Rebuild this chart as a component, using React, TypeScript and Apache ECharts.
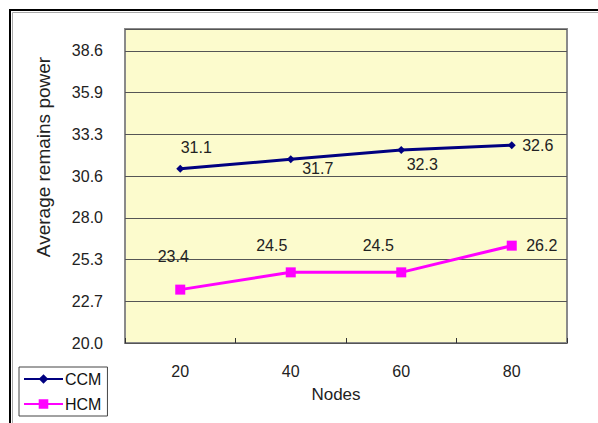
import React, { useEffect, useRef } from "react";
import * as echarts from "echarts";

const nodes = ["20", "40", "60", "80"];
const ccmValues = [31.1, 31.7, 32.3, 32.6];
const hcmValues = [23.4, 24.5, 24.5, 26.2];
const ccmLabelOffsets = [[16, -21], [27, 9], [21, 15], [26, 0]];
const hcmLabelOffsets = [[-7, -33], [-19, -27], [-23, -27], [30, 0]];
const yMin = 20;
const yMax = 40;
const yStep = 18.6 / 7;

const FONT = "'Liberation Sans', Arial, sans-serif";

export default function App() {
  const ref = useRef<HTMLDivElement>(null);

  useEffect(() => {
    if (!ref.current) return;
    const chart = echarts.init(ref.current, undefined, { renderer: "svg" });

    const toData = (vals: number[], offs: number[][]) =>
      vals.map((v, i) => ({
        value: v,
        label: { offset: offs[i] },
      }));

    chart.setOption({
      animation: false,
      backgroundColor: "#ffffff",
      textStyle: { fontFamily: FONT },
      grid: {
        left: 125,
        top: 29,
        right: 31,
        bottom: 80,
        show: true,
        backgroundColor: "#FCFBCD",
        borderColor: "#8a8a8a",
        borderWidth: 2,
      },
      xAxis: {
        type: "category",
        data: nodes,
        boundaryGap: true,
        axisLine: { show: false },
        axisTick: {
          show: true,
          inside: true,
          length: 5,
          lineStyle: { color: "#333", width: 1 },
        },
        axisLabel: { color: "#222", fontSize: 16, margin: 20, fontFamily: FONT },
        splitLine: { show: false },
      },
      yAxis: {
        type: "value",
        min: yMin,
        max: yMax,
        interval: yStep,
        axisLine: { show: false },
        axisTick: { show: false },
        axisLabel: {
          color: "#222",
          fontSize: 16,
          margin: 22,
          fontFamily: FONT,
          showMaxLabel: false,
          formatter: (v: number) => (v > 39 ? "" : v.toFixed(1)),
        },
        splitLine: { show: true, lineStyle: { color: "#555", width: 1 } },
      },
      legend: {
        left: 19,
        top: 367,
        orient: "vertical",
        data: ["CCM", "HCM"],
        itemWidth: 39,
        itemHeight: 12,
        itemGap: 9,
        padding: [4, 6, 4, 4],
        backgroundColor: "#ffffff",
        borderColor: "#444",
        borderWidth: 1,
        borderRadius: 0,
        textStyle: { color: "#111", fontSize: 16, fontFamily: FONT, padding: [0, 0, 0, -3] },
      },
      graphic: [
        {
          type: "polyline",
          shape: { points: [[10, 423], [10, 10], [598, 10]] },
          style: { stroke: "#000", lineWidth: 2, fill: null },
          silent: true,
        },
        {
          type: "polyline",
          shape: { points: [[12.5, 423], [12.5, 12.5], [598, 12.5]] },
          style: { stroke: "#aaa", lineWidth: 1, fill: null },
          silent: true,
        },
        {
          type: "text",
          x: 43,
          y: 157,
          rotation: Math.PI / 2,
          style: {
            text: "Average remains power",
            fontSize: 19,
            fontFamily: FONT,
            fill: "#222",
            align: "center",
            verticalAlign: "middle",
          },
        },
        {
          type: "text",
          x: 336,
          y: 394,
          style: {
            text: "Nodes",
            fontSize: 17,
            fontFamily: FONT,
            fill: "#222",
            align: "center",
            verticalAlign: "middle",
          },
        },
      ],
      series: [
        {
          name: "CCM",
          type: "line",
          data: toData(ccmValues, ccmLabelOffsets),
          symbol: "diamond",
          symbolSize: 8,
          lineStyle: { color: "#000080", width: 3 },
          itemStyle: { color: "#000080" },
          label: {
            show: true,
            position: "inside",
            color: "#222",
            fontSize: 16,
            fontFamily: FONT,
            formatter: (p: any) => p.value.toFixed(1),
          },
        },
        {
          name: "HCM",
          type: "line",
          data: toData(hcmValues, hcmLabelOffsets),
          symbol: "rect",
          symbolSize: 10,
          lineStyle: { color: "#FF00FF", width: 3 },
          itemStyle: { color: "#FF00FF" },
          label: {
            show: true,
            position: "inside",
            color: "#222",
            fontSize: 16,
            fontFamily: FONT,
            formatter: (p: any) => p.value.toFixed(1),
          },
        },
      ],
    });

    return () => chart.dispose();
  }, []);

  return (
    <div
      ref={ref}
      style={{ position: "fixed", left: 0, top: 0, width: 598, height: 423 }}
    />
  );
}
